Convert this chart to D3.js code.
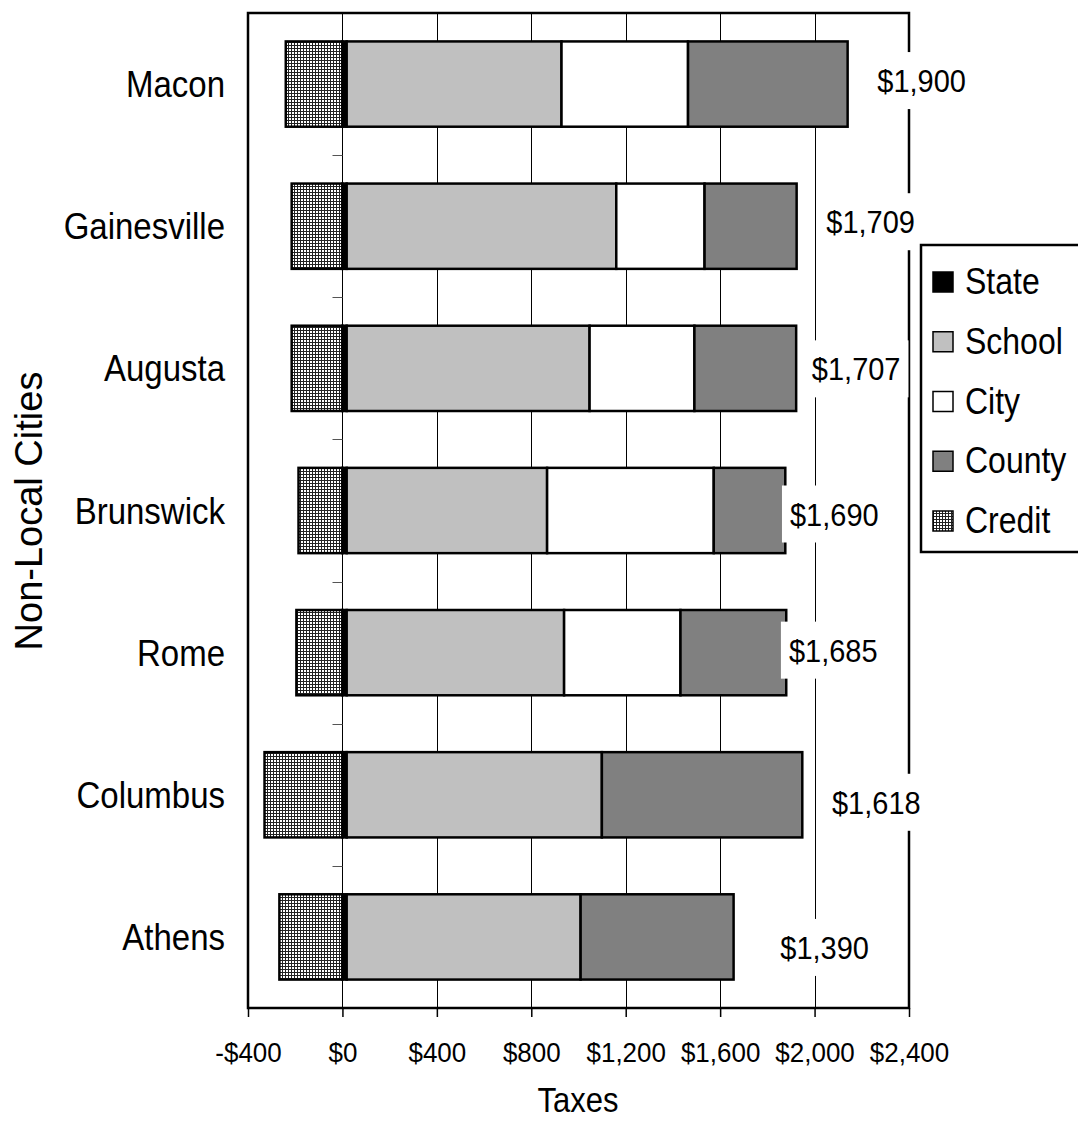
<!DOCTYPE html>
<html>
<head>
<meta charset="utf-8">
<script src="https://cdn.jsdelivr.net/npm/d3@7"></script>
<style>
  html, body { margin: 0; padding: 0; background: #fff; }
  svg { display: block; font-family: "Liberation Sans", Arial, sans-serif; }
</style>
</head>
<body>
<svg id="chart" width="1078" height="1128"></svg>
<script>
// Property tax components per city (dollars); credit is subtracted from the total
const cities = ["Macon", "Gainesville", "Augusta", "Brunswick", "Rome", "Columbus", "Athens"];
const state  = [18, 18, 18, 18, 18, 18, 18];
const school = [910, 1142, 1029, 849, 921, 1081, 991];
const city   = [536, 374, 444, 706, 493, 0, 0];
const county = [676, 390, 431, 303, 448, 849, 648];
const credit = [240, 215, 215, 186, 195, 330, 267];
const xTicks = [-400, 0, 400, 800, 1200, 1600, 2000, 2400];
const seriesNames = ["State", "School", "City", "County", "Credit"];

// Placement of the total labels relative to each bar's end: [dx, dy] in pixels
const labelNudge = [[74, -4], [74, -5], [60, 0], [49, 3], [47, -3], [74, 7], [91, 10]];

const fills = { State: "#000000", School: "#c0c0c0", City: "#ffffff", County: "#808080", Credit: "url(#creditPattern)" };

const svg = d3.select("#chart");
const plot = { left: 248, right: 909, top: 13, bottom: 1008 };

const x = d3.scaleLinear().domain([-400, 2400]).range([plot.left, plot.right]);
const y = d3.scaleBand().domain(cities).range([plot.top, plot.bottom]).paddingInner(0.4).paddingOuter(0.2);

// Fine grid hatch used for the credit segments
const defs = svg.append("defs");
const pat = defs.append("pattern").attr("id", "creditPattern")
  .attr("patternUnits", "userSpaceOnUse").attr("width", 3).attr("height", 3);
pat.append("rect").attr("width", 3).attr("height", 3).attr("fill", "#fff");
pat.append("path").attr("d", "M0,0.5H3M0.5,0V3").attr("stroke", "#222").attr("stroke-width", 1).attr("shape-rendering", "crispEdges");

// Build stacked rows
const rows = cities.map((c, i) => {
  const segs = [];
  let acc = 0;
  [["State", state[i]], ["School", school[i]], ["City", city[i]], ["County", county[i]]].forEach(([k, v]) => {
    if (v > 0) segs.push({ key: k, x0: acc, x1: acc + v });
    acc += v;
  });
  segs.unshift({ key: "Credit", x0: -credit[i], x1: 0 });
  return { city: c, segs, end: acc, total: acc - credit[i], i };
});

// Vertical gridlines
svg.append("g").selectAll("line")
  .data(xTicks.filter(t => t !== 0 && t !== -400 && t !== 2400))
  .join("line")
  .attr("x1", d => Math.round(x(d)) + 0.5).attr("x2", d => Math.round(x(d)) + 0.5)
  .attr("y1", plot.top).attr("y2", plot.bottom)
  .attr("stroke", "#000").attr("stroke-width", 1);

// Category axis at zero with ticks between categories
const zx = Math.round(x(0)) + 0.5;
svg.append("line").attr("x1", zx).attr("x2", zx).attr("y1", plot.top).attr("y2", plot.bottom)
  .attr("stroke", "#000").attr("stroke-width", 1);
svg.append("g").selectAll("line")
  .data(d3.range(1, cities.length))
  .join("line")
  .attr("x1", zx - 10).attr("x2", zx)
  .attr("y1", k => Math.round(plot.top + k * y.step()) + 0.5)
  .attr("y2", k => Math.round(plot.top + k * y.step()) + 0.5)
  .attr("stroke", "#555").attr("stroke-width", 1);

// Bars
const barG = svg.append("g");
rows.forEach(r => {
  barG.append("g").selectAll("rect")
    .data(r.segs)
    .join("rect")
    .attr("x", d => x(d.x0))
    .attr("width", d => x(d.x1) - x(d.x0))
    .attr("y", y(r.city))
    .attr("height", y.bandwidth())
    .attr("fill", d => fills[d.key])
    .attr("stroke", "#000")
    .attr("stroke-width", 2.5);
});

// Plot frame
svg.append("rect")
  .attr("x", plot.left).attr("y", plot.top)
  .attr("width", plot.right - plot.left).attr("height", plot.bottom - plot.top)
  .attr("fill", "none").attr("stroke", "#000").attr("stroke-width", 2.5);

// Value axis ticks and labels
const xAxis = d3.axisBottom(x).tickValues(xTicks).tickSize(9).tickPadding(22)
  .tickFormat(d => (d < 0 ? "-$" : "$") + d3.format(",")(Math.abs(d)));
const axG = svg.append("g").attr("transform", `translate(0,${plot.bottom})`).call(xAxis);
axG.select(".domain").remove();
axG.selectAll(".tick line").attr("stroke", "#000").attr("stroke-width", 1.5);
axG.selectAll(".tick text")
  .attr("fill", "#000").attr("font-size", 26).attr("font-family", "Liberation Sans, Arial, sans-serif")
  .attr("dy", null).attr("y", null)
  .attr("transform", "translate(0,54) scale(1,1.05)");

// Category labels
svg.append("g").selectAll("text")
  .data(cities)
  .join("text")
  .attr("transform", d => `translate(225,${y(d) + y.bandwidth() / 2 + 13}) scale(1,1.14)`)
  .attr("text-anchor", "end")
  .attr("font-size", 33)
  .attr("fill", "#000")
  .text(d => d);

// Axis titles
svg.append("text")
  .attr("transform", "translate(578,1112) scale(1,1.12)")
  .attr("text-anchor", "middle").attr("font-size", 31).attr("fill", "#000")
  .text("Taxes");
svg.append("text")
  .attr("transform", "translate(42,511) rotate(-90)")
  .attr("text-anchor", "middle").attr("font-size", 38).attr("fill", "#000")
  .text("Non-Local Cities");

// Total labels on white boxes
const fmt = d3.format(",");
const lblG = svg.append("g");
rows.forEach(r => {
  const [dx, dy] = labelNudge[r.i];
  const cx = x(r.end) + dx;
  const cy = y(r.city) + y.bandwidth() / 2 + dy;
  const g = lblG.append("g");
  const box = g.append("rect").attr("fill", "#fff");
  const t = g.append("text")
    .attr("transform", `translate(${cx},${cy + 12}) scale(1,1.1)`)
    .attr("text-anchor", "middle").attr("font-size", 29).attr("fill", "#000")
    .text("$" + fmt(r.total));
  const w = t.node().getComputedTextLength();
  box.attr("x", cx - w / 2 - 8).attr("width", w + 16)
     .attr("y", cy - 28).attr("height", 57);
});

// Legend
const lg = svg.append("g");
lg.append("rect").attr("x", 921).attr("y", 245).attr("width", 200).attr("height", 307)
  .attr("fill", "#fff").attr("stroke", "#000").attr("stroke-width", 2.5);
const itemY = d3.scalePoint().domain(seriesNames).range([282, 521]);
seriesNames.forEach(n => {
  const cy = itemY(n);
  lg.append("rect").attr("x", 933).attr("y", cy - 10).attr("width", 20).attr("height", 20)
    .attr("fill", fills[n]).attr("stroke", "#000").attr("stroke-width", 1.5);
  lg.append("text").attr("transform", `translate(965,${cy + 12}) scale(1,1.15)`)
    .attr("font-size", 32).attr("fill", "#000").text(n);
});
</script>
</body>
</html>
